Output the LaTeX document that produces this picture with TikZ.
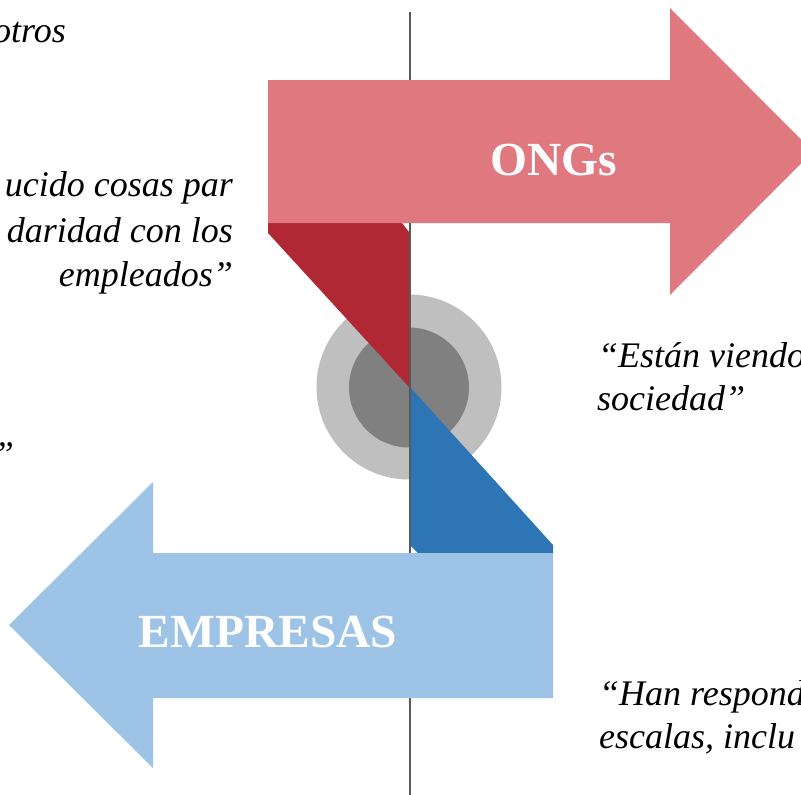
\documentclass[tikz,border=0pt]{standalone}
\usepackage{fontspec}
\setmainfont{Liberation Serif}
\definecolor{redlight}{HTML}{E07880}
\definecolor{reddark}{HTML}{B02834}
\definecolor{bluedark}{HTML}{2E75B6}
\definecolor{bluelight}{HTML}{9DC3E6}
\definecolor{ringouter}{HTML}{BFBFBF}
\definecolor{ringinner}{HTML}{808080}
\definecolor{axisgray}{HTML}{595959}
\begin{document}
\begin{tikzpicture}[x=1pt,y=-1pt,
  quote/.style={inner sep=0pt,font=\fontsize{36}{44}\selectfont\itshape,text=black},
  label/.style={inner sep=0pt,font=\fontsize{47.5}{50}\selectfont\bfseries,text=white}]
\useasboundingbox (0,0) rectangle (801,795);
\clip (0,0) rectangle (801,795);
% rings
\fill[ringouter] (409,387) circle (92.5);
\fill[ringinner] (409,387.5) circle (60);
% connecting wedges
\fill[reddark] (268,223) -- (402,223) -- (409,232) -- (409,387) -- (268,233) -- cycle;
\fill[bluedark] (410,387) -- (553,545) -- (553,553) -- (418,553) -- (410,545) -- cycle;
% axis
\coordinate (axtop) at (410,12);
\coordinate (axbot) at (410,795);
\draw[axisgray,line width=2pt] (axtop) -- (axbot);
% arrows
\fill[redlight] (268,80) -- (670,80) -- (670,8) -- (813,151.5) -- (670,295) -- (670,223) -- (268,223) -- cycle;
\fill[bluelight] (553,553) -- (153,553) -- (153,482) -- (9,625) -- (153,768) -- (153,698) -- (553,698) -- cycle;
\node[label] (ongs) at (554,160) {ONGs};
\node[label] (empresas) at (268,632) {EMPRESAS};
% quotes
\node[quote,anchor=base east] (q1) at (66,42) {otros};
\node[quote,anchor=base east] (q2a) at (233,196) {ucido cosas par};
\node[quote,anchor=base east] (q2b) at (233,242) {daridad con los};
\node[quote,anchor=base east] (q2c) at (233,286) {empleados”};
\node[quote,anchor=base east] (q3) at (14,466) {”};
\node[quote,anchor=base west] (q4a) at (598,367) {“Están viendo};
\node[quote,anchor=base west] (q4b) at (597,410) {sociedad”};
\node[quote,anchor=base west] (q5a) at (599,705) {“Han respond};
\node[quote,anchor=base west] (q5b) at (599,748) {escalas, inclu};
\end{tikzpicture}
\end{document}
